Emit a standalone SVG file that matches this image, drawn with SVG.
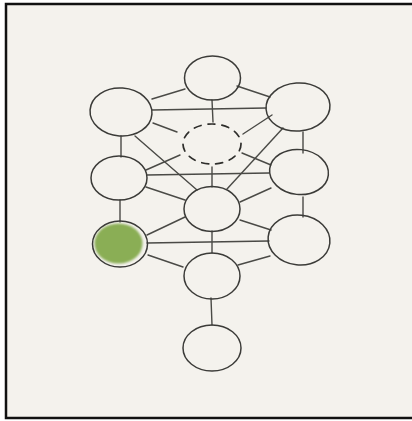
<svg xmlns="http://www.w3.org/2000/svg" width="412" height="421" viewBox="0 0 412 421">
  <defs>
    <filter id="soft" x="-20%" y="-20%" width="140%" height="140%">
      <feGaussianBlur stdDeviation="1.2"/>
    </filter>
    <style>
      .node { fill: none; stroke: #3b3b38; stroke-width: 1.5; }
      .link { stroke: #4a4a46; stroke-width: 1.4; stroke-linecap: round; fill: none; }
      .hidden { fill: none; stroke: #2e2e2b; stroke-width: 1.7; stroke-dasharray: 7 7; stroke-linecap: round; }
      .frame { stroke: #111; stroke-width: 2.5; fill: none; }
    </style>
  </defs>

  <!-- paper -->
  <rect x="0" y="0" width="412" height="421" fill="#ffffff"/>
  <rect x="6" y="4" width="406" height="414" fill="#f4f2ed"/>
  <path class="frame" d="M412 4 H6 V418 H412"/>

  <!-- paths between the spheres -->
  <g id="connectors">
    <line class="link" x1="185" y1="89" x2="152" y2="99"/>
    <line class="link" x1="237" y1="86" x2="270" y2="97"/>
    <line class="link" x1="152" y1="110" x2="266" y2="108"/>
    <line class="link" x1="212" y1="100" x2="213" y2="122"/>
    <line class="link" x1="153" y1="123" x2="177" y2="132"/>
    <line class="link" x1="272" y1="115" x2="243" y2="134"/>
    <line class="link" x1="121" y1="136" x2="121" y2="157"/>
    <line class="link" x1="303" y1="132" x2="303" y2="153"/>
    <line class="link" x1="135" y1="136" x2="197" y2="190"/>
    <line class="link" x1="283" y1="128" x2="227" y2="189"/>
    <line class="link" x1="180" y1="155" x2="146" y2="170"/>
    <line class="link" x1="242" y1="153" x2="271" y2="165"/>
    <line class="link" x1="147" y1="175" x2="269" y2="173"/>
    <line class="link" x1="212" y1="167" x2="212" y2="187"/>
    <line class="link" x1="146" y1="187" x2="185" y2="200"/>
    <line class="link" x1="271" y1="188" x2="240" y2="202"/>
    <line class="link" x1="120" y1="200" x2="120" y2="222"/>
    <line class="link" x1="303" y1="197" x2="303" y2="217"/>
    <line class="link" x1="185" y1="217" x2="147" y2="235"/>
    <line class="link" x1="240" y1="220" x2="271" y2="230"/>
    <line class="link" x1="147" y1="243" x2="269" y2="241"/>
    <line class="link" x1="212" y1="231" x2="212" y2="253"/>
    <line class="link" x1="148" y1="255" x2="183" y2="267"/>
    <line class="link" x1="270" y1="256" x2="238" y2="265"/>
    <line class="link" x1="211" y1="298" x2="212" y2="325"/>
  </g>

  <!-- spheres -->
  <g id="keter"><ellipse class="node" cx="212.5" cy="78" rx="28" ry="22"/></g>
  <g id="binah"><ellipse class="node" cx="121" cy="112" rx="31" ry="24" transform="rotate(4 121 112)"/></g>
  <g id="chokmah"><ellipse class="node" cx="298" cy="107" rx="32" ry="24" transform="rotate(-4 298 107)"/></g>
  <g id="daat"><ellipse class="hidden" cx="212" cy="144" rx="29" ry="20"/></g>
  <g id="gevurah"><ellipse class="node" cx="119" cy="178" rx="28" ry="22"/></g>
  <g id="chesed"><ellipse class="node" cx="299" cy="172" rx="29.5" ry="22.5" transform="rotate(6 299 172)"/></g>
  <g id="tiferet"><ellipse class="node" cx="212" cy="209" rx="28" ry="22.5"/></g>
  <g id="hod">
    <ellipse cx="118.5" cy="243.5" rx="24" ry="20" fill="#8aae55" filter="url(#soft)"/>
    <ellipse class="node" cx="120" cy="244" rx="27.5" ry="23"/>
  </g>
  <g id="netzach"><ellipse class="node" cx="299" cy="240" rx="31" ry="25" transform="rotate(6 299 240)"/></g>
  <g id="yesod"><ellipse class="node" cx="212" cy="276" rx="28" ry="23"/></g>
  <g id="malkuth"><ellipse class="node" cx="212" cy="348" rx="29" ry="23"/></g>
</svg>
